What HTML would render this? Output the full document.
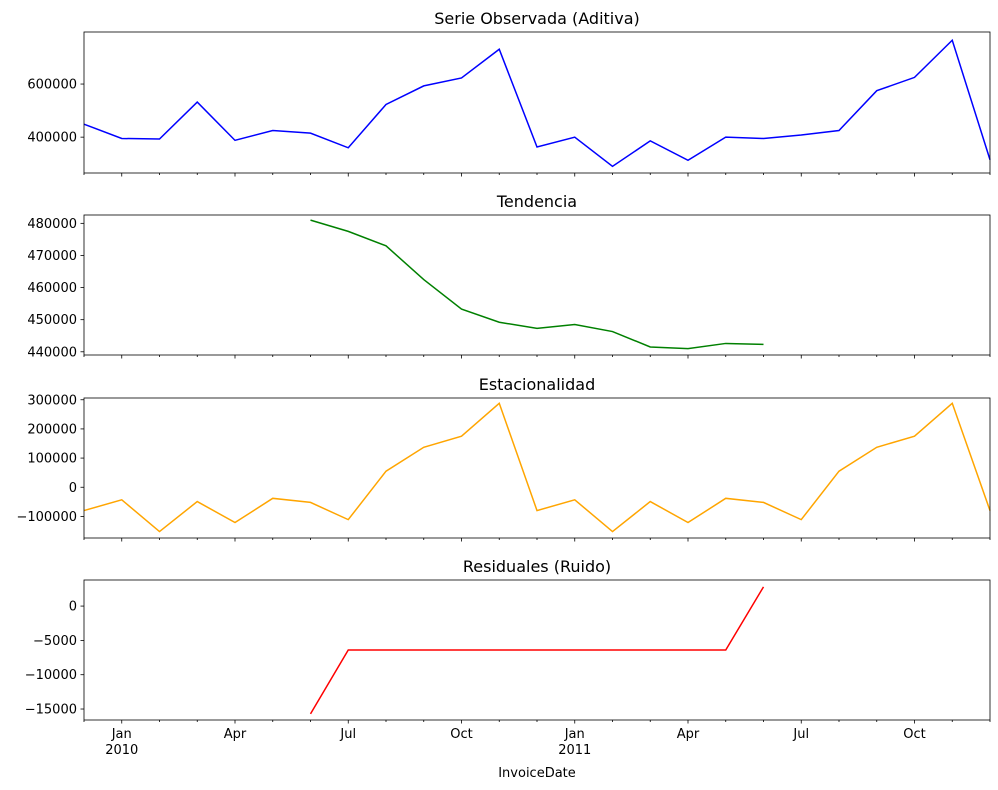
<!DOCTYPE html>
<html><head><meta charset="utf-8">
<style>
html,body{margin:0;padding:0;background:#fff;}
svg{display:block;font-family:"DejaVu Sans","Liberation Sans",sans-serif;}
</style></head>
<body>
<svg id="c" width="998" height="790" xmlns="http://www.w3.org/2000/svg"></svg>
<script>
const months = ["2009-12","2010-01","2010-02","2010-03","2010-04","2010-05","2010-06","2010-07","2010-08","2010-09","2010-10","2010-11","2010-12","2011-01","2011-02","2011-03","2011-04","2011-05","2011-06","2011-07","2011-08","2011-09","2011-10","2011-11","2011-12"];
const observed = [449000,395000,393000,532000,388000,425000,415000,360000,523000,593000,623000,731000,363000,400000,290000,386000,313000,400000,395000,408000,425000,575000,625000,765000,315000];
const trend = [null,null,null,null,null,null,481000,477500,473000,462500,453300,449200,447300,448500,446300,441500,441000,442600,442300,null,null,null,null,null,null];
const seasonal = [-80000,-43000,-152000,-49000,-121000,-38000,-52000,-111000,55000,137000,175000,288000,-80000,-43000,-152000,-49000,-121000,-38000,-52000,-111000,55000,137000,175000,288000,-80000];
const resid = [null,null,null,null,null,null,-15700,-6400,-6400,-6400,-6400,-6400,-6400,-6400,-6400,-6400,-6400,-6400,2800,null,null,null,null,null,null];
const obsTicks = [400000,600000];
const trendTicks = [440000,450000,460000,470000,480000];
const seasTicks = [-100000,0,100000,200000,300000];
const residTicks = [-15000,-10000,-5000,0];
const xMajor = [1,4,7,10,13,16,19,22];
const xMajorLabels = ["Jan\n2010","Apr","Jul","Oct","Jan\n2011","Apr","Jul","Oct"];

const svg = document.getElementById('c');
const NS = "http://www.w3.org/2000/svg";
function mk(tag, attrs, parent){const e=document.createElementNS(NS,tag);for(const k in attrs)e.setAttribute(k,attrs[k]);(parent||svg).appendChild(e);return e;}
const X0=84, X1=990;
const xs = i => X0 + (X1-X0)*i/(months.length-1);

const panels = [
 {name:"observed",title:"Serie Observada (Aditiva)",data:observed,ticks:obsTicks,color:"#0000ff",top:32,bot:173,ymin:265000,ymax:796000},
 {name:"trend",title:"Tendencia",data:trend,ticks:trendTicks,color:"#008000",top:215,bot:355,ymin:439000,ymax:482600},
 {name:"seasonal",title:"Estacionalidad",data:seasonal,ticks:seasTicks,color:"#ffa500",top:398,bot:538,ymin:-174000,ymax:306000},
 {name:"residual",title:"Residuales (Ruido)",data:resid,ticks:residTicks,color:"#ff0000",top:580,bot:720,ymin:-16600,ymax:3800},
];
panels.forEach((p,pi)=>{
  const g = mk('g',{});
  
  
  const ys = v => p.bot - (v-p.ymin)/(p.ymax-p.ymin)*(p.bot-p.top);
  // line
  let d="";let pen=false;
  p.data.forEach((v,i)=>{ if(v===null){pen=false;return;} d+=(pen?"L":"M")+xs(i).toFixed(2)+","+ys(v).toFixed(2); pen=true;});
  const path = mk('path',{d:d,fill:"none",stroke:p.color,"stroke-width":1.5},g);
  
  
  // frame
  const fr = mk('rect',{x:X0,y:p.top,width:X1-X0,height:p.bot-p.top,fill:"none",stroke:"#000","stroke-width":0.8},g);
  
  
  // title
  const t = mk('text',{x:(X0+X1)/2,y:p.top-8,"text-anchor":"middle","font-size":16},g);
  t.textContent=p.title;
  
  
  // y ticks
  p.ticks.forEach(v=>{
    const y=ys(v);
    mk('line',{x1:X0-3.5,x2:X0,y1:y,y2:y,stroke:"#000","stroke-width":0.8},g);
    const tl = mk('text',{x:X0-7,y:y+4.5,"text-anchor":"end","font-size":13},g);
    tl.textContent=v.toString().replace('-','\u2212');
    
    
  });
  // x ticks
  months.forEach((m,i)=>{
    const major = xMajor.includes(i);
    mk('line',{x1:xs(i),x2:xs(i),y1:p.bot,y2:p.bot+(major?3.5:2),stroke:"#000","stroke-width":0.8},g);
  });
  if(pi===3){
    xMajor.forEach((i,k)=>{
      const lines = xMajorLabels[k].split("\n");
      lines.forEach((s,j)=>{
        const tl = mk('text',{x:xs(i),y:p.bot+18+j*16,"text-anchor":"middle","font-size":13},g);
        tl.textContent=s;
        
        
      });
    });
    const xl = mk('text',{x:(X0+X1)/2,y:777,"text-anchor":"middle","font-size":13},g);
    xl.textContent="InvoiceDate";
    
    
  }
});
</script>
</body></html>
